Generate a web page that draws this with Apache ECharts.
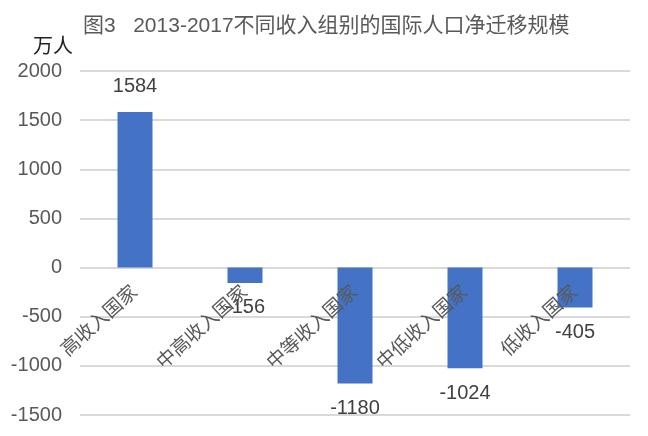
<!DOCTYPE html>
<html>
<head>
<meta charset="utf-8">
<script src="https://cdn.jsdelivr.net/npm/echarts@6/dist/echarts.min.js"></script>
<style>html,body{margin:0;padding:0;background:#fff}#c{width:648px;height:436px}</style>
</head>
<body>
<div id="c"></div>
<script>
const titleText = '图3   2013-2017不同收入组别的国际人口净迁移规模';
const unitText = '万人';
const categories = ['高收入国家', '中高收入国家', '中等收入国家', '中低收入国家', '低收入国家'];
const values = [1584, -156, -1180, -1024, -405];
const yTicks = { min: -1500, max: 2000, interval: 500 };

const FONT = "'Liberation Sans', 'Noto Sans CJK SC', sans-serif";
const GRAY = '#595959';

const chart = echarts.init(document.getElementById('c'));
chart.setOption({
  animation: false,
  backgroundColor: '#fff',
  title: {
    text: titleText,
    left: 83,
    top: 16,
    padding: 0,
    textStyle: { fontFamily: FONT, fontSize: 21, fontWeight: 'normal', color: GRAY }
  },
  grid: { left: 80, right: 18, top: 71, bottom: 21, containLabel: false, outerBoundsMode: 'none' },
  xAxis: {
    type: 'category',
    data: categories,
    z: 5,
    axisLine: { show: false, onZero: false },
    axisTick: { show: false },
    axisLabel: { interval: 0, rotate: 42, margin: 22, fontFamily: FONT, fontSize: 19, color: GRAY }
  },
  yAxis: {
    type: 'value',
    min: yTicks.min, max: yTicks.max, interval: yTicks.interval,
    name: unitText,
    nameLocation: 'end',
    nameGap: 24,
    nameTextStyle: { fontFamily: FONT, fontSize: 20, color: '#222', align: 'right', verticalAlign: 'middle', padding: [0, 7, 0, 0] },
    axisLine: { show: false },
    axisTick: { show: false },
    axisLabel: { margin: 18, fontFamily: FONT, fontSize: 20, color: GRAY, formatter: v => String(v) },
    splitLine: { lineStyle: { color: '#d9d9d9', width: 2 } }
  },
  series: [{
    type: 'bar',
    barWidth: 35,
    itemStyle: { color: '#4472C4' },
    data: values.map(v => ({
      value: v,
      label: { position: v >= 0 ? 'top' : 'bottom' }
    })),
    label: { show: true, distance: 15, fontFamily: FONT, fontSize: 20, color: '#404040' }
  }]
});
// place the category axis on the zero line
const zeroY = chart.convertToPixel({ yAxisIndex: 0 }, 0);
const bottomY = chart.convertToPixel({ yAxisIndex: 0 }, yTicks.min);
chart.setOption({ xAxis: { offset: zeroY - bottomY } });
</script>
</body>
</html>
